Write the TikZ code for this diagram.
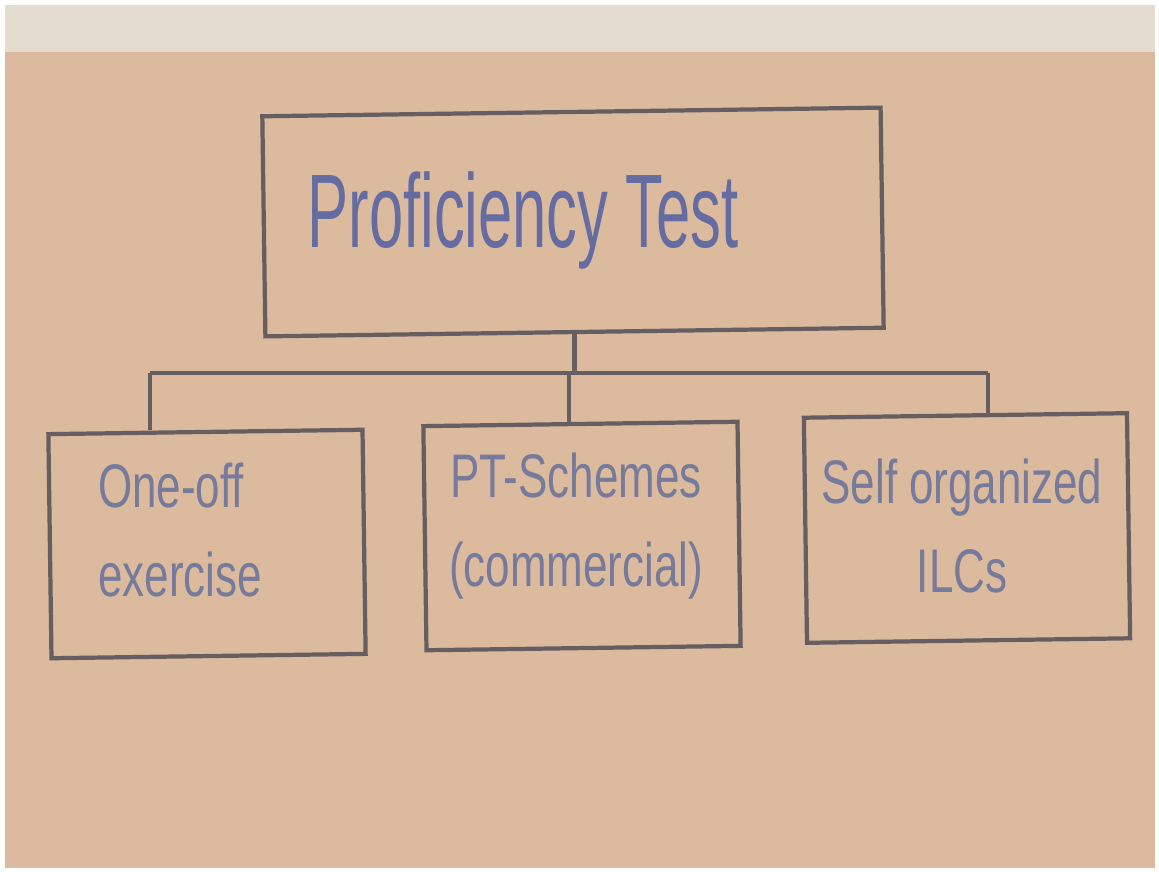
\documentclass[tikz,border=0pt]{standalone}
\usepackage{fontspec}
\setmainfont{Liberation Sans}
\usepackage{tikz}
\usetikzlibrary{positioning}
\definecolor{paper}{RGB}{219,186,158}
\definecolor{strip}{RGB}{228,220,206}
\definecolor{ink}{RGB}{102,94,96}
\definecolor{pen}{RGB}{100,108,162}
\definecolor{pale}{RGB}{118,122,155}
\newcommand{\hand}[1]{\scalebox{1}[1.4]{#1}}
\tikzset{box/.style={draw=ink, line width=1.2pt, rotate=0.8, inner sep=0pt},
  wire/.style={draw=ink, line width=1.2pt},
  note/.style={text=pale, font=\fontsize{12.5}{25.5}\selectfont, inner sep=0pt}}

\begin{document}
\begin{tikzpicture}[x=0.01cm, y=-0.01cm]
\useasboundingbox (0,0) rectangle (1159,872);
\fill[white] (0,0) rectangle (1159,872);
\fill[strip] (5,5) rectangle (1155,52);
\fill[paper] (5,52) rectangle (1155,868);

 \node[box, minimum width=6.18cm, minimum height=2.2cm] (test) at (573,222) {};
 \node[text=pen, font=\fontsize{17.5}{20}\selectfont, inner sep=0pt] (test-t) at (523,220) {\scalebox{1}[1.7]{Proficiency Test}};

 \node[box, minimum width=3.14cm, minimum height=2.24cm] (one) at (207,544) {};
 \node[box, minimum width=3.14cm, minimum height=2.24cm] (two) at (582,536) {};
 \node[box, minimum width=3.23cm, minimum height=2.25cm] (three) at (967,528) {};

 \node[note, align=left] (one-t) at (180,530) {\hand{One-off}\\\hand{exercise}};
 \node[note, align=center] (two-t) at (576,526) {\hand{PT-Schemes}\\\hand{(commercial)}};
 \node[note, align=center] (three-t) at (962,526) {\hand{Self organized}\\\hand{ILCs}};

 \coordinate (bl) at (150,373);
 \coordinate (bm) at (569,373);
 \coordinate (br) at (988,373);
 \draw[wire] (test.south) -- (test.south |- bl);
 \draw[wire] (bl) -- (br);
 \draw[wire] (bl) -- (bl |- one.north);
 \draw[wire] (bm) -- (bm |- two.north);
 \draw[wire] (br) -- (br |- three.north);
\end{tikzpicture}
\end{document}
